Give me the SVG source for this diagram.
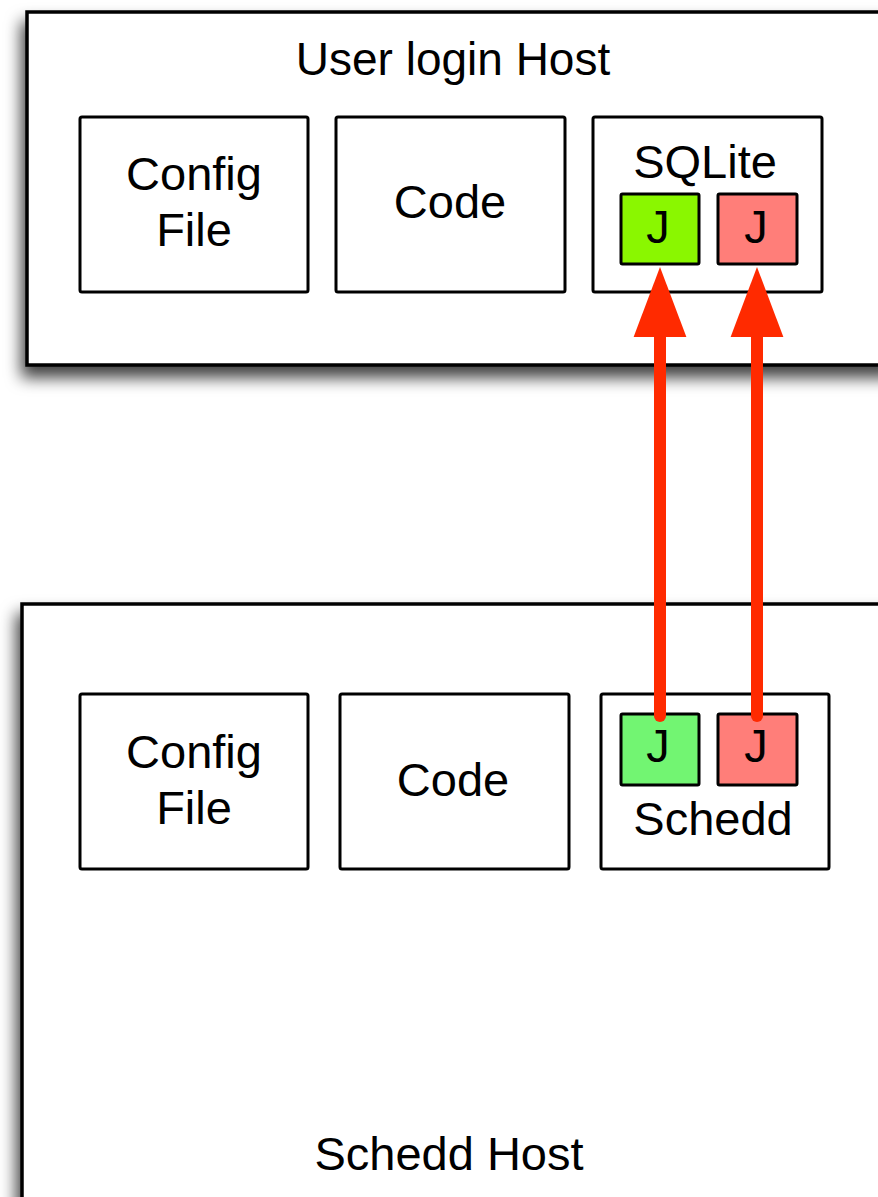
<svg xmlns="http://www.w3.org/2000/svg" width="878" height="1197" viewBox="0 0 878 1197">
  <defs>
    <filter id="hostShadow" x="-10%" y="-10%" width="130%" height="130%">
      <feDropShadow dx="-4" dy="11" stdDeviation="8" flood-color="#000" flood-opacity="0.75"/>
    </filter>
    <marker id="arrowHead" markerUnits="userSpaceOnUse" markerWidth="70" markerHeight="54" viewBox="0 0 69 52" refX="0" refY="26" orient="auto">
      <path d="M0,0 L69,26 L0,52 z" fill="#ff2a00"/>
    </marker>
    <style>
      .host { fill: #fff; stroke: #000; stroke-width: 3.5; filter: url(#hostShadow); }
      .box { fill: #fff; stroke: #000; stroke-width: 3; }
      .job { stroke: #000; stroke-width: 3; }
      .ok { fill: #8af700; }
      .done { fill: #72f572; }
      .bad { fill: #ff7e79; }
      text { font-family: "Liberation Sans", Arial, sans-serif; font-size: 47px; fill: #000; text-anchor: middle; }
      .title { font-size: 46px; }
      .conn { fill: none; stroke: #ff2a00; stroke-width: 12; stroke-linecap: round; marker-end: url(#arrowHead); }
    </style>
  </defs>

  <rect width="878" height="1197" fill="#fff"/>

  <!-- user login host -->
  <g id="user-login-host">
    <rect class="host" x="27" y="12" width="870" height="353"/>
    <text class="title" x="453" y="75">User login Host</text>
  </g>
  <g id="user-config">
    <rect class="box" x="80" y="117" width="228" height="175" rx="2"/>
    <text x="194" y="190">Config</text>
    <text x="194" y="246">File</text>
  </g>
  <g id="user-code">
    <rect class="box" x="336" y="117" width="229" height="175" rx="2"/>
    <text x="450" y="218">Code</text>
  </g>
  <g id="sqlite">
    <rect class="box" x="593" y="117" width="229" height="175" rx="2"/>
    <text x="705" y="178">SQLite</text>
  </g>
  <g id="sqlite-job-1">
    <rect class="job ok" x="621" y="194" width="78" height="70" rx="1.5"/>
    <text x="658" y="243">J</text>
  </g>
  <g id="sqlite-job-2">
    <rect class="job bad" x="718" y="194" width="79" height="70" rx="1.5"/>
    <text x="756" y="243">J</text>
  </g>

  <!-- schedd host -->
  <g id="schedd-host">
    <rect class="host" x="22" y="604" width="880" height="620"/>
    <text x="449" y="1170">Schedd Host</text>
  </g>
  <g id="schedd-config">
    <rect class="box" x="80" y="694" width="228" height="175" rx="2"/>
    <text x="194" y="768">Config</text>
    <text x="194" y="824">File</text>
  </g>
  <g id="schedd-code">
    <rect class="box" x="340" y="694" width="229" height="175" rx="2"/>
    <text x="453" y="796">Code</text>
  </g>
  <g id="schedd">
    <rect class="box" x="601" y="694" width="228" height="175" rx="2"/>
    <text x="713" y="835">Schedd</text>
  </g>
  <g id="schedd-job-1">
    <rect class="job done" x="621" y="714" width="78" height="71" rx="1.5"/>
    <text x="658" y="762">J</text>
  </g>
  <g id="schedd-job-2">
    <rect class="job bad" x="718" y="714" width="79" height="71" rx="1.5"/>
    <text x="756" y="762">J</text>
  </g>

  <!-- job sync connectors -->
  <g id="connectors">
    <path class="conn" d="M660,716 L660,337"/>
    <path class="conn" d="M757,716 L757,337"/>
  </g>
</svg>
